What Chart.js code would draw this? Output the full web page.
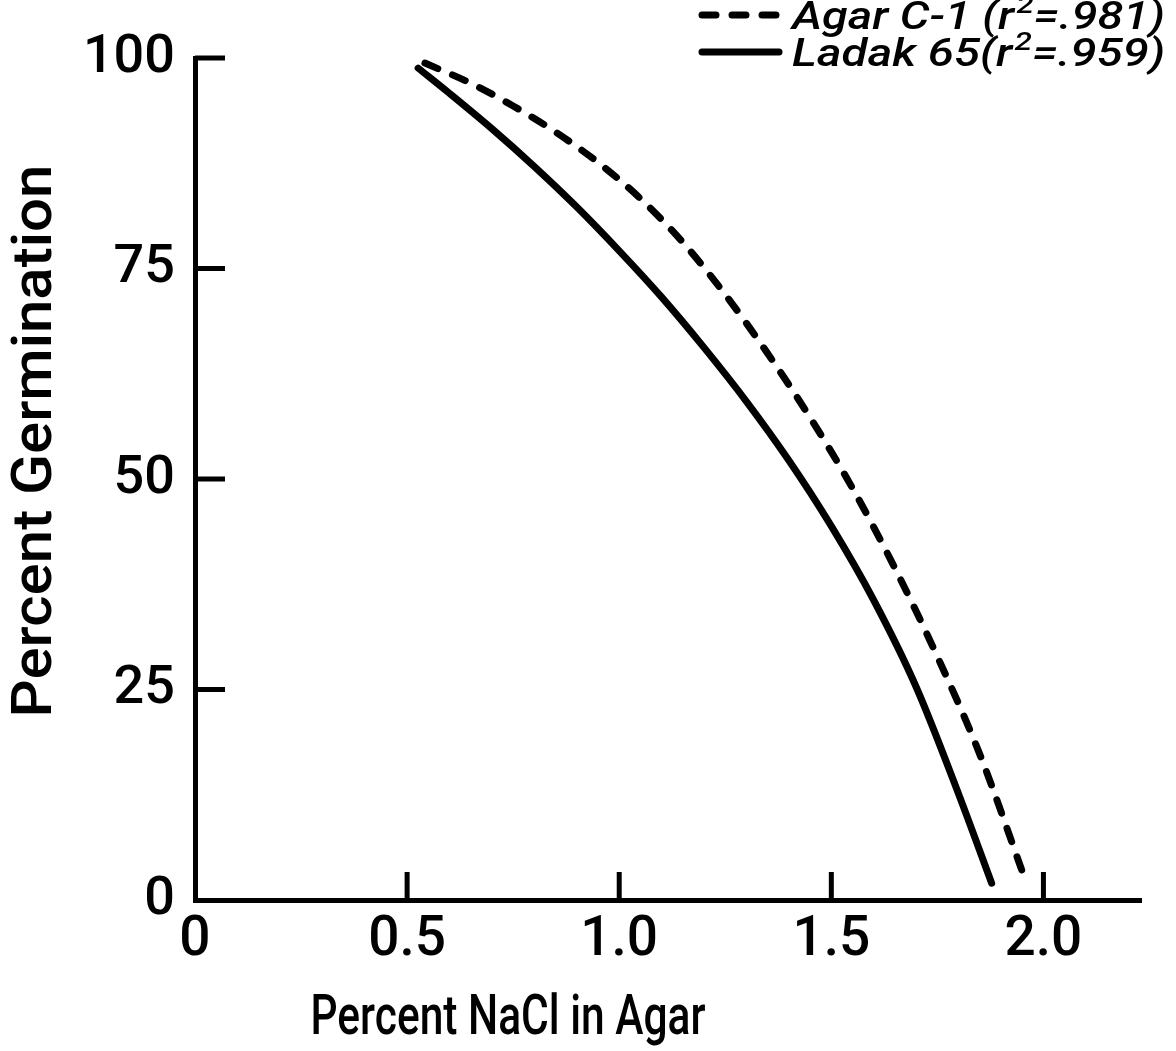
<!DOCTYPE html>
<html>
<head>
<meta charset="utf-8">
<script src="https://cdn.jsdelivr.net/npm/chart.js@4.4.1/dist/chart.umd.min.js"></script>
<style>
  html, body { margin: 0; padding: 0; background: #fff; }
</style>
</head>
<body>
<canvas id="chart" width="1176" height="1051"></canvas>
<script>
// values
const ladakX = [0.526, 0.6, 0.7, 0.8, 0.9, 1.0, 1.1, 1.2, 1.3, 1.4, 1.5, 1.6, 1.7, 1.8, 1.878];
const ladakY = [98.8, 95.8, 91.6, 87.1, 82.3, 77.1, 71.6, 65.6, 59.2, 52.2, 44.4, 35.6, 25.3, 12.6, 2.0];
const agarX = [0.542, 0.65, 0.75, 0.85, 0.95, 1.05, 1.15, 1.25, 1.35, 1.45, 1.55, 1.65, 1.75, 1.85, 1.96];
const agarY = [99.4, 97.0, 94.3, 91.2, 87.6, 83.3, 78.1, 71.9, 64.9, 57.3, 48.9, 39.4, 28.9, 17.3, 2.0];

const xTicks = [0, 0.5, 1.0, 1.5, 2.0];
const xTickLabels = ["0", "0.5", "1.0", "1.5", "2.0"];
const yTicks = [0, 25, 50, 75, 100];
const yTickLabels = ["0", "25", "50", "75", "100"];

const xTitle = "Percent NaCl in Agar";
const yTitle = "Percent Germination";
const legendNames = ["Agar C-1 (r", "Ladak 65(r"];
const legendR2 = ["=.981)", "=.959)"];

const toPoints = (xs, ys) => xs.map((x, i) => ({ x: x, y: ys[i] }));
const FONT = "Roboto, 'Liberation Sans', sans-serif";

// tick marks point into the plot area
const inwardTicks = {
  id: "inwardTicks",
  afterDraw(chart) {
    const { ctx, scales: { x, y } } = chart;
    ctx.save();
    ctx.strokeStyle = "#000";
    ctx.lineWidth = 5;
    y.ticks.forEach(t => {
      if (t.value === 0) return;
      const py = y.getPixelForValue(t.value);
      ctx.beginPath();
      ctx.moveTo(x.left, py);
      ctx.lineTo(x.left + 30, py);
      ctx.stroke();
    });
    x.ticks.forEach(t => {
      if (t.value === 0) return;
      const px = x.getPixelForValue(t.value);
      ctx.beginPath();
      ctx.moveTo(px, y.bottom);
      ctx.lineTo(px, y.bottom - 28);
      ctx.stroke();
    });
    ctx.restore();
  }
};

// text squeezed to a given width (the lettering is narrow)
function fitText(ctx, text, cx, cy, width, angle) {
  const w = ctx.measureText(text).width;
  ctx.save();
  ctx.translate(cx, cy);
  ctx.rotate(angle);
  ctx.scale(width / w, 1);
  ctx.fillText(text, 0, 0);
  ctx.restore();
}

// axis titles and the legend with a superscript
const annotations = {
  id: "annotations",
  afterDraw(chart) {
    const { ctx } = chart;
    ctx.save();
    ctx.fillStyle = "#000";
    ctx.textAlign = "center";
    ctx.textBaseline = "middle";

    ctx.font = "500 56px " + FONT;
    fitText(ctx, yTitle, 37, 441, 553, -Math.PI / 2);
    ctx.font = "500 55px " + FONT;
    fitText(ctx, xTitle, 508, 1020, 395, 0);

    const rows = [15, 52];
    chart.data.datasets.forEach((ds, i) => {
      const ly = rows[i];
      ctx.strokeStyle = "#000";
      ctx.lineWidth = 7;
      ctx.lineCap = "round";
      ctx.setLineDash(ds.borderDash || []);
      ctx.beginPath();
      ctx.moveTo(702, ly);
      ctx.lineTo(779, ly);
      ctx.stroke();
      ctx.setLineDash([]);

      // measure the whole row, then squeeze it to the printed width
      const big = "italic 500 39px " + FONT;
      const small = "italic 500 26px " + FONT;
      ctx.font = big;
      const w1 = ctx.measureText(legendNames[i]).width;
      const w3 = ctx.measureText(legendR2[i]).width;
      ctx.font = small;
      const w2 = ctx.measureText("2").width;
      const k = 373 / (w1 + w2 + w3 + 2);

      ctx.save();
      ctx.translate(792, ly + 14);
      ctx.scale(k, 1);
      ctx.textAlign = "left";
      ctx.textBaseline = "alphabetic";
      ctx.font = big;
      ctx.fillText(legendNames[i], 0, 0);
      ctx.font = small;
      ctx.fillText("2", w1 + 2, -16);
      ctx.font = big;
      ctx.fillText(legendR2[i], w1 + 2 + w2, 0);
      ctx.restore();
    });
    ctx.restore();
  }
};

new Chart(document.getElementById("chart"), {
  type: "line",
  data: {
    datasets: [
      {
        label: "Agar C-1",
        data: toPoints(agarX, agarY),
        borderColor: "#000",
        borderWidth: 7,
        borderDash: [14, 16],
        borderCapStyle: "round",
        pointRadius: 0,
        cubicInterpolationMode: "monotone",
        fill: false
      },
      {
        label: "Ladak 65",
        data: toPoints(ladakX, ladakY),
        borderColor: "#000",
        borderWidth: 7,
        borderCapStyle: "round",
        pointRadius: 0,
        cubicInterpolationMode: "monotone",
        fill: false
      }
    ]
  },
  options: {
    responsive: false,
    animation: false,
    devicePixelRatio: 1,
    layout: { padding: { top: 58, right: 35, bottom: 0, left: 0 } },
    plugins: {
      legend: { display: false },
      tooltip: { enabled: false }
    },
    scales: {
      x: {
        type: "linear",
        min: 0,
        max: 2.23,
        afterBuildTicks: s => { s.ticks = xTicks.map(v => ({ value: v })); },
        afterFit: s => { s.height = 151; },
        grid: { display: false },
        border: { display: true, color: "#000", width: 5 },
        ticks: {
          color: "#000",
          padding: 0,
          font: { family: FONT, size: 55, weight: "500" },
          callback: (v, i) => xTickLabels[i]
        }
      },
      y: {
        min: 0,
        max: 100,
        afterBuildTicks: s => { s.ticks = yTicks.map(v => ({ value: v })); },
        afterFit: s => { s.width = 195; },
        grid: { display: false },
        border: { display: true, color: "#000", width: 5 },
        ticks: {
          color: "#000",
          padding: 12,
          font: { family: FONT, size: 54, weight: "500" },
          callback: (v, i) => yTickLabels[i]
        }
      }
    }
  },
  plugins: [inwardTicks, annotations]
});
</script>
</body>
</html>
